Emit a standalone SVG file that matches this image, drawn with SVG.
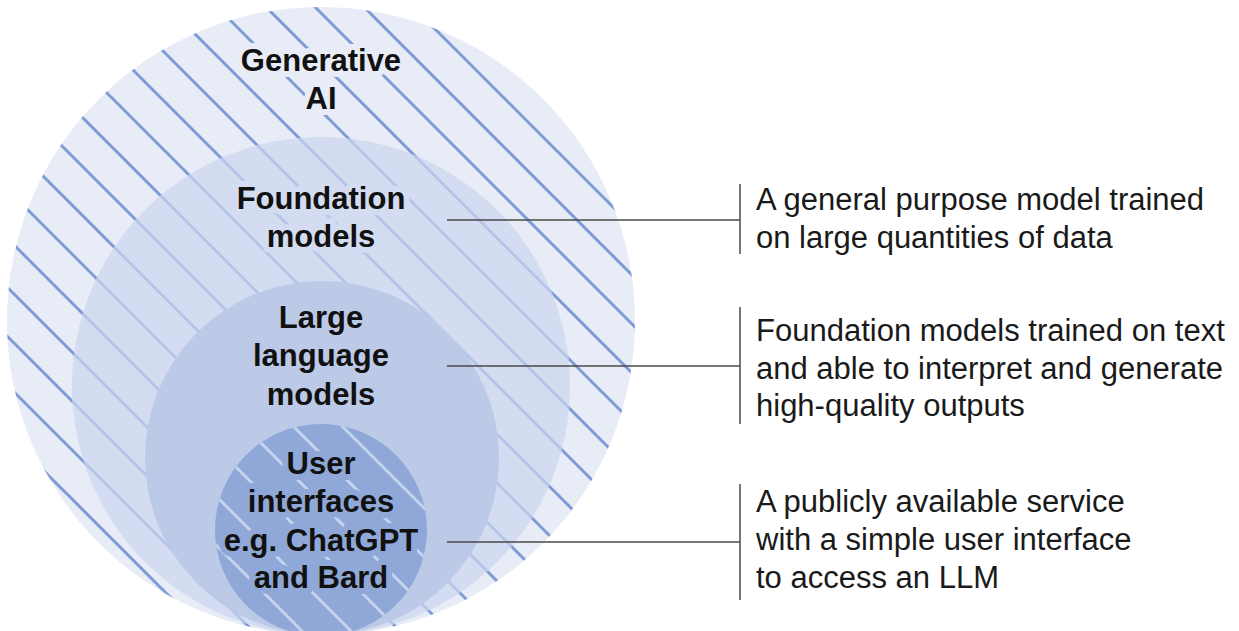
<svg xmlns="http://www.w3.org/2000/svg" width="1239" height="631" viewBox="0 0 1239 631">
  <defs>
    <!-- 45-degree hatching, one tint per ring -->
    <pattern id="hatch-outer" patternUnits="userSpaceOnUse" x="14" y="0" width="49" height="49">
      <path d="M0,0L49,49M-10,39L10,59M39,-10L59,10" stroke="#7f9bd6" stroke-width="3" fill="none"/>
    </pattern>
    <pattern id="hatch-found" patternUnits="userSpaceOnUse" x="14" y="0" width="49" height="49">
      <path d="M0,0L49,49M-10,39L10,59M39,-10L59,10" stroke="#b5c4e8" stroke-width="3" fill="none"/>
    </pattern>
    <pattern id="hatch-ui" patternUnits="userSpaceOnUse" x="14" y="0" width="49" height="49">
      <path d="M0,0L49,49M-10,39L10,59M39,-10L59,10" stroke="#c6d3ef" stroke-width="3" fill="none"/>
    </pattern>
  </defs>
  <style>
    .label { font-family: "Liberation Sans", Arial, sans-serif; font-weight: bold; font-size: 31px; fill: #111; text-anchor: middle; paint-order: stroke; stroke-width: 12px; stroke-linejoin: round; }
    .desc { font-family: "Liberation Sans", Arial, sans-serif; font-size: 31px; fill: #1a1a1a; }
    .conn { stroke: #4a4a4a; stroke-width: 1.5; fill: none; }
  </style>

  <rect width="1239" height="631" fill="#ffffff"/>

  <g id="node-generative-ai">
    <circle cx="321" cy="321" r="314" fill="#e7ecf7"/>
    <circle cx="321" cy="321" r="314" fill="url(#hatch-outer)"/>
  </g>

  <g id="node-foundation-models">
    <circle cx="321" cy="386" r="249" fill="#d3dcf0"/>
    <circle cx="321" cy="386" r="249" fill="url(#hatch-found)"/>
  </g>

  <g id="node-llm">
    <circle cx="322" cy="458" r="177" fill="#bccae8"/>
  </g>

  <g id="node-user-interfaces">
    <circle cx="321" cy="530" r="106" fill="#8fa8d8"/>
    <circle cx="321" cy="530" r="106" fill="url(#hatch-ui)"/>
  </g>

  <!-- circle labels, each haloed in its own ring colour -->
  <g id="labels">
    <text class="label" x="321" y="71" stroke="#e7ecf7">Generative</text>
    <text class="label" x="321" y="109" stroke="#e7ecf7">AI</text>
    <text class="label" x="321" y="209" stroke="#d3dcf0">Foundation</text>
    <text class="label" x="321" y="247" stroke="#d3dcf0">models</text>
    <text class="label" x="321" y="328" stroke="#bccae8">Large</text>
    <text class="label" x="321" y="366" stroke="#bccae8">language</text>
    <text class="label" x="321" y="405" stroke="#bccae8">models</text>
    <text class="label" x="321" y="474" stroke="#8fa8d8">User</text>
    <text class="label" x="321" y="512" stroke="#8fa8d8">interfaces</text>
    <text class="label" x="321" y="551" stroke="#8fa8d8">e.g. ChatGPT</text>
    <text class="label" x="321" y="588" stroke="#8fa8d8">and Bard</text>
  </g>

  <g id="connectors">
    <path class="conn" d="M447,220H740M740,184V254"/>
    <path class="conn" d="M447,366H740M740,307V424"/>
    <path class="conn" d="M447,542H740M740,484V600"/>
  </g>

  <g id="desc-foundation">
    <text class="desc" x="756" y="210">A general purpose model trained</text>
    <text class="desc" x="756" y="248">on large quantities of data</text>
  </g>
  <g id="desc-llm">
    <text class="desc" x="756" y="341">Foundation models trained on text</text>
    <text class="desc" x="756" y="379">and able to interpret and generate</text>
    <text class="desc" x="756" y="416">high-quality outputs</text>
  </g>
  <g id="desc-ui">
    <text class="desc" x="756" y="512">A publicly available service</text>
    <text class="desc" x="756" y="550">with a simple user interface</text>
    <text class="desc" x="756" y="588">to access an LLM</text>
  </g>
</svg>
